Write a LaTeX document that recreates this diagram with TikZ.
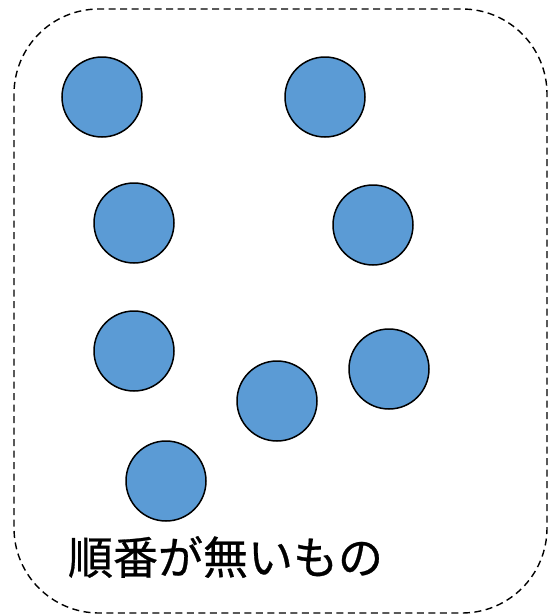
\documentclass[tikz,border=0pt]{standalone}
\usepackage{fontspec}
\newfontfamily\cjk[FakeBold=0.6]{Noto Sans CJK JP}
\definecolor{ballblue}{HTML}{5B9BD5}
\begin{document}
\begin{tikzpicture}[x=1pt,y=-1pt,
  ball/.style={circle,draw=black,line width=1.5pt,fill=ballblue,minimum size=80pt,inner sep=0pt}]
\useasboundingbox (0,0) rectangle (549,616);
\draw[dash pattern=on 7pt off 4.5pt,line width=1.4pt,rounded corners=85pt] (14,9) rectangle (547,613);
\node[ball] (c1) at (102,97) {};
\node[ball] (c2) at (325,97) {};
\node[ball] (c3) at (134,223) {};
\node[ball] (c4) at (373,225) {};
\node[ball] (c5) at (134,351) {};
\node[ball] (c6) at (389,369) {};
\node[ball] (c7) at (277,401) {};
\node[ball] (c8) at (166,481) {};
\node[font=\cjk\fontsize{45pt}{50pt}\selectfont,inner sep=0pt] (t) at (225.5,557) {順番が無いもの};
\end{tikzpicture}
\end{document}
